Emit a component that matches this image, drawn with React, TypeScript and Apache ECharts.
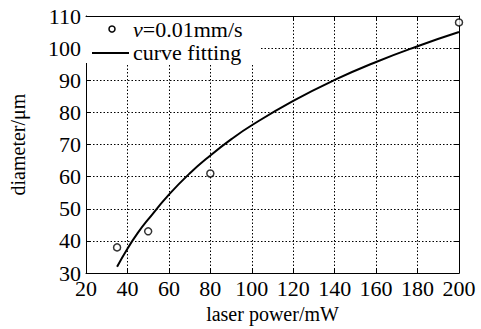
import React, { useEffect, useRef } from "react";
import * as echarts from "echarts";

const measuredPower = [35, 50, 80, 200];
const measuredDiameter = [38, 43, 61, 108];

const fitPower = [35, 40, 45, 50, 60, 70, 80, 90, 100, 120, 140, 160, 180, 200];
const fitDiameter = [32, 37.6, 42.5, 46.7, 54.4, 61.0, 66.6, 71.6, 76.0, 83.6, 90.1, 95.7, 100.6, 105];

const xTicks = [20, 40, 60, 80, 100, 120, 140, 160, 180, 200];
const yTicks = [30, 40, 50, 60, 70, 80, 90, 100, 110];

const FONT = "Liberation Serif";

export default function App() {
  const ref = useRef<HTMLDivElement>(null);
  useEffect(() => {
    document.body.style.margin = "0";
    if (!ref.current) return;
    const chart = echarts.init(ref.current, null, { renderer: "svg" });
    const axisCommon = {
      axisLine: { show: true, onZero: false, lineStyle: { color: "#000", width: 1 } },
      axisTick: { show: true, inside: true, length: 5, lineStyle: { color: "#000" } },
    };
    chart.setOption({
      animation: false,
      backgroundColor: "#fff",
      textStyle: { fontFamily: FONT },
      grid: { left: 82, right: 22, top: 16, bottom: 49, containLabel: false },
      xAxis: [
        {
          type: "value",
          min: xTicks[0],
          max: xTicks[xTicks.length - 1],
          interval: 20,
          position: "bottom",
          name: "laser power/mW",
          nameLocation: "middle",
          nameGap: 24,
          nameTextStyle: { fontFamily: FONT, fontSize: 20, color: "#000" },
          ...axisCommon,
          axisLabel: { fontFamily: FONT, fontSize: 22, color: "#000", margin: 4 },
          splitLine: { show: true, lineStyle: { type: [1.5, 2], color: "#000", width: 1 } },
        },
        {
          type: "value",
          min: xTicks[0],
          max: xTicks[xTicks.length - 1],
          interval: 20,
          position: "top",
          ...axisCommon,
          axisLabel: { show: false },
          splitLine: { show: false },
        },
      ],
      yAxis: [
        {
          type: "value",
          min: yTicks[0],
          max: yTicks[yTicks.length - 1],
          interval: 10,
          position: "left",
          name: "diameter/μm",
          nameLocation: "middle",
          nameGap: 58,
          nameTextStyle: { fontFamily: FONT, fontSize: 20, color: "#000" },
          ...axisCommon,
          axisLabel: { fontFamily: FONT, fontSize: 22, color: "#000", margin: 5 },
          splitLine: { show: true, lineStyle: { type: [1.5, 2], color: "#000", width: 1 } },
        },
        {
          type: "value",
          min: yTicks[0],
          max: yTicks[yTicks.length - 1],
          interval: 10,
          position: "right",
          ...axisCommon,
          axisLabel: { show: false },
          splitLine: { show: false },
        },
      ],
      series: [
        {
          name: "curve fitting",
          type: "line",
          data: fitPower.map((p, i) => [p, fitDiameter[i]]),
          smooth: true,
          symbol: "none",
          lineStyle: { color: "#000", width: 2 },
          z: 3,
        },
        {
          name: "v=0.01mm/s",
          type: "scatter",
          data: measuredPower.map((p, i) => [p, measuredDiameter[i]]),
          symbol: "circle",
          symbolSize: 7,
          itemStyle: { color: "#fff", borderColor: "#000", borderWidth: 1.5 },
          z: 4,
        },
      ],
      graphic: [
        { type: "rect", shape: { x: 83, y: 17, width: 178, height: 46 }, style: { fill: "#fff" }, z: 10 },
        { type: "circle", shape: { cx: 112, cy: 29, r: 3 }, style: { fill: "#fff", stroke: "#000", lineWidth: 1.5 }, z: 11 },
        {
          type: "text",
          x: 133,
          y: 29,
          z: 11,
          style: {
            text: "{i|v}=0.01mm/s",
            fontFamily: FONT,
            fontSize: 22,
            fill: "#000",
            verticalAlign: "middle",
            rich: { i: { fontStyle: "italic", fontFamily: FONT, fontSize: 22 } },
          },
        },
        { type: "line", shape: { x1: 92, y1: 53, x2: 129, y2: 53 }, style: { stroke: "#000", lineWidth: 2 }, z: 11 },
        {
          type: "text",
          x: 133,
          y: 52,
          z: 11,
          style: { text: "curve fitting", fontFamily: FONT, fontSize: 22, fill: "#000", verticalAlign: "middle" },
        },
      ],
    });
    return () => chart.dispose();
  }, []);
  return <div ref={ref} style={{ width: 481, height: 329 }} />;
}
